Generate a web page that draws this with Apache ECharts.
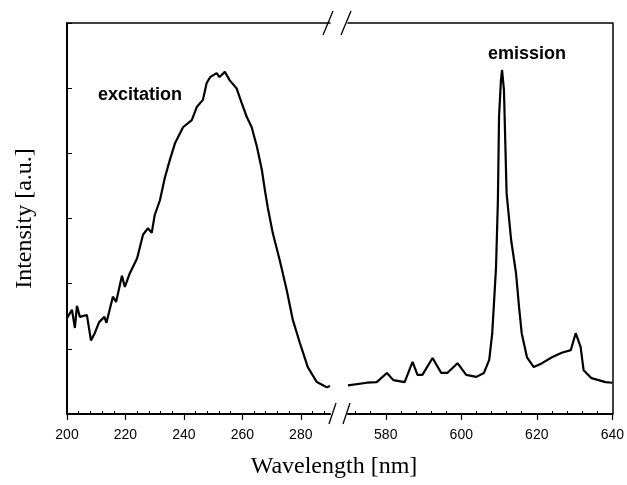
<!DOCTYPE html>
<html>
	<head>
		<meta charset="utf-8">
		<title>excitation / emission</title>
		<script src="https://cdn.jsdelivr.net/npm/echarts@6/dist/echarts.min.js"></script>
		<style>
			html, body { margin: 0; padding: 0; background: #fff; }
			#chart { width: 627px; height: 485px; }
		</style>
	</head>
	<body>
		<div id="chart"></div>
		<script>
			// excitation spectrum (left part of the broken axis)
			var excWl = [200, 201.7, 202.7, 203.4, 204.4, 206.8, 208.2, 209.5, 211, 212.8, 213.5, 215.7, 216.8, 218.8, 219.8,
				221.5, 224, 226, 227.7, 229, 230, 231.8, 233.5, 235.2, 237, 239.7, 242.7, 244.4, 246.5, 247.8, 249, 251.2,
				252.2, 254, 255.7, 258, 259.8, 261.5, 263.2, 265, 266.7, 267.7, 268.7, 270.4, 272.8, 275.2, 277.3, 279.7,
				282.4, 285.5, 288.9, 290];
			var excVal = [1.47, 1.60, 1.32, 1.66, 1.49, 1.52, 1.13, 1.24, 1.41, 1.49, 1.40, 1.80, 1.72, 2.12, 1.95,
				2.16, 2.39, 2.75, 2.85, 2.78, 3.05, 3.28, 3.63, 3.90, 4.16, 4.40, 4.51, 4.71, 4.82, 5.08, 5.17, 5.23,
				5.17, 5.25, 5.12, 5.00, 4.77, 4.56, 4.40, 4.10, 3.74, 3.44, 3.17, 2.78, 2.36, 1.90, 1.44, 1.09,
				0.72, 0.49, 0.41, 0.43];

			// emission spectrum (right part)
			var emWl = [570, 575, 577.6, 580.3, 582, 585, 587.1, 588.4, 589.7, 592.4, 594.7, 596.3, 599, 601.3, 604, 606,
				607.4, 608.2, 609.2, 609.7, 610, 610.5, 610.8, 611.3, 612, 613.2, 614.5, 615.3, 616, 617.4, 619.2, 621.4,
				624, 626.6, 629, 630.3, 631.6, 632.4, 634.5, 638.2, 640];
			var emVal = [0.44, 0.48, 0.49, 0.63, 0.52, 0.49, 0.80, 0.60, 0.60, 0.86, 0.63, 0.63, 0.78, 0.60, 0.57, 0.63,
				0.83, 1.24, 2.25, 3.28, 4.56, 5.12, 5.28, 4.97, 3.39, 2.67, 2.16, 1.64, 1.24, 0.87, 0.72, 0.78,
				0.87, 0.94, 0.98, 1.24, 1.03, 0.67, 0.55, 0.49, 0.48];

			var leftTicks = [200, 220, 240, 260, 280];
			var rightTicks = [580, 600, 620, 640];

			function pairs(xs, ys) {
				var out = [];
				for (var i = 0; i < xs.length; i++) out.push([xs[i], ys[i]]);
				return out;
			}

			// minor ticks every 4 nm, skipping the labelled ones
			function minors(a, b) {
				var out = [];
				for (var v = a; v <= b; v += 4) {
					if (v % 20 != 0) out.push(v);
				}
				return out;
			}

			var labelFont = "'Liberation Sans Narrow', 'Liberation Sans', Arial, sans-serif";
			var serif = "'Liberation Serif', 'DejaVu Serif', serif";

			function mainX(grid, min, max, ticks) {
				return {
					type: 'value', gridIndex: grid, min: min, max: max, position: 'bottom',
					axisLine: { show: true, onZero: false, lineStyle: { color: '#000', width: 2 } },
					axisTick: { show: true, length: 6, customValues: ticks, lineStyle: { color: '#000', width: 1.2 } },
					axisLabel: { customValues: ticks, color: '#000', fontSize: 14, fontFamily: labelFont, margin: 14 },
					splitLine: { show: false }
				};
			}

			function minorX(grid, min, max, ticks) {
				return {
					type: 'value', gridIndex: grid, min: min, max: max, position: 'bottom',
					axisLine: { show: false, onZero: false },
					axisTick: { show: true, inside: true, length: 3, customValues: ticks, lineStyle: { color: '#000', width: 1 } },
					axisLabel: { show: false },
					splitLine: { show: false }
				};
			}

			function topX(grid, min, max) {
				return {
					type: 'value', gridIndex: grid, min: min, max: max, position: 'top',
					axisLine: { show: true, onZero: false, lineStyle: { color: '#000', width: 1.5 } },
					axisTick: { show: false }, axisLabel: { show: false }, splitLine: { show: false }
				};
			}

			var myChart = echarts.init(document.getElementById('chart'));
			var option = {
				backgroundColor: '#fff',
				animation: false,
				grid: [
					{ left: 67, width: 263, top: 23, height: 391 },
					{ left: 348, width: 265, top: 23, height: 391 }
				],
				xAxis: [
					mainX(0, 200, 290, leftTicks),
					minorX(0, 200, 290, minors(200, 288)),
					topX(0, 200, 290),
					mainX(1, 570, 640, rightTicks),
					minorX(1, 570, 640, minors(572, 640)),
					topX(1, 570, 640)
				],
				yAxis: [
					{
						type: 'value', gridIndex: 0, min: 0, max: 6, interval: 1, position: 'left',
						name: 'Intensity [a.u.]', nameLocation: 'middle', nameGap: 30,
						nameTextStyle: { color: '#000', fontSize: 24, fontFamily: serif },
						axisLine: { show: true, lineStyle: { color: '#000', width: 2 } },
						axisTick: { show: true, inside: true, length: 5, lineStyle: { color: '#000', width: 1 } },
						axisLabel: { show: false }, splitLine: { show: false }
					},
					{
						type: 'value', gridIndex: 1, min: 0, max: 6, interval: 1, position: 'right',
						axisLine: { show: true, lineStyle: { color: '#000', width: 1.5 } },
						axisTick: { show: false }, axisLabel: { show: false }, splitLine: { show: false }
					}
				],
				series: [
					{
						name: 'excitation', type: 'line', xAxisIndex: 0, yAxisIndex: 0,
						data: pairs(excWl, excVal), showSymbol: false,
						lineStyle: { color: '#000', width: 2.2 }
					},
					{
						name: 'emission', type: 'line', xAxisIndex: 3, yAxisIndex: 1,
						data: pairs(emWl, emVal), showSymbol: false,
						lineStyle: { color: '#000', width: 2.2 }
					}
				],
				graphic: [
					// axis break marks
					{ type: 'line', shape: { x1: 323, y1: 35, x2: 333, y2: 11 }, style: { stroke: '#000', lineWidth: 1.3 } },
					{ type: 'line', shape: { x1: 341, y1: 35, x2: 351, y2: 11 }, style: { stroke: '#000', lineWidth: 1.3 } },
					{ type: 'line', shape: { x1: 329, y1: 424, x2: 336, y2: 403 }, style: { stroke: '#000', lineWidth: 1.3 } },
					{ type: 'line', shape: { x1: 343, y1: 424, x2: 350, y2: 403 }, style: { stroke: '#000', lineWidth: 1.3 } },
					{ type: 'text', left: 98, top: 86, style: { text: 'excitation', fill: '#000', font: "bold 18px 'Liberation Sans', Arial, sans-serif" } },
					{ type: 'text', left: 488, top: 45, style: { text: 'emission', fill: '#000', font: "bold 18px 'Liberation Sans', Arial, sans-serif" } },
					{ type: 'text', x: 334, y: 467, style: { text: 'Wavelength [nm]', fill: '#000', align: 'center', verticalAlign: 'middle', font: "24px 'Liberation Serif', 'DejaVu Serif', serif" } }
				]
			};
			myChart.setOption(option);
		</script>
	</body>
</html>
